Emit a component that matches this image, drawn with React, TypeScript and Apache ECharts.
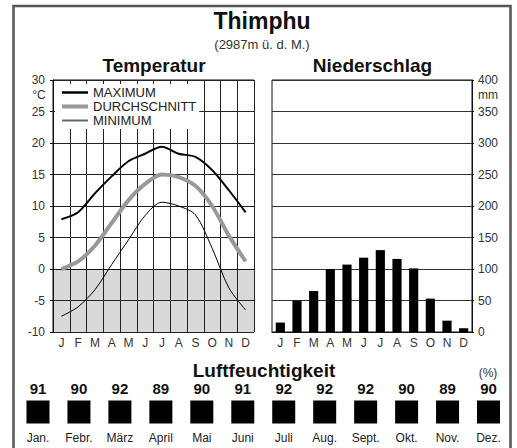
import React, { useEffect, useRef } from 'react';
import * as echarts from 'echarts';

const monthLetters = ['J', 'F', 'M', 'A', 'M', 'J', 'J', 'A', 'S', 'O', 'N', 'D'];
const monthNames = ['Jan.', 'Febr.', 'März', 'April', 'Mai', 'Juni', 'Juli', 'Aug.', 'Sept.', 'Okt.', 'Nov.', 'Dez.'];
const tempMax = [7.9, 9.0, 12.0, 14.7, 17.1, 18.3, 19.4, 18.3, 17.8, 15.7, 12.5, 9.0];
const tempAvg = [0.0, 1.2, 3.7, 7.3, 10.9, 13.5, 15.0, 14.6, 13.2, 10.0, 5.3, 1.2];
const tempMin = [-7.5, -6.0, -3.3, 0.7, 4.6, 8.5, 10.6, 10.0, 8.6, 3.3, -3.0, -6.5];
const precipitation = [15, 50, 65, 100, 107, 118, 130, 116, 101, 53, 18, 6];
const humidity = [91, 90, 92, 89, 90, 91, 92, 92, 92, 90, 89, 90];
const seriesNames = ['MAXIMUM', 'DURCHSCHNITT', 'MINIMUM'];

const FONT = '"Liberation Sans", Arial, Helvetica, sans-serif';

export default function App() {
  const ref = useRef<HTMLDivElement>(null);
  useEffect(() => {
    const chart = echarts.init(ref.current as HTMLDivElement, null, { renderer: 'svg' });
    const tickLabel = { fontSize: 12, color: '#333', fontFamily: FONT };
    chart.setOption({
      animation: false,
      backgroundColor: '#ffffff',
      textStyle: { fontFamily: FONT },
      grid: [
        { left: 53, top: 80, width: 201, height: 252, show: true, borderColor: '#111', borderWidth: 1 },
        { left: 272, top: 80, width: 200, height: 252, show: true, borderColor: '#111', borderWidth: 1 },
        { left: 17.5, top: 401, width: 491.5, height: 22 },
      ],
      legend: {
        orient: 'vertical',
        left: 55,
        top: 84,
        padding: [2, 3, 2, 7],
        itemWidth: 26,
        itemHeight: 8,
        itemGap: 1,
        backgroundColor: '#ffffff',
        textStyle: { fontSize: 13, color: '#222', fontFamily: FONT },
        data: [
          { name: seriesNames[0], icon: 'path://M0,0H26V2.5H0Z', itemStyle: { color: '#000' } },
          { name: seriesNames[1], icon: 'path://M0,0H26V4H0Z', itemStyle: { color: '#999' } },
          { name: seriesNames[2], icon: 'path://M0,0H26V2H0Z', itemStyle: { color: '#666' } },
        ],
      },
      xAxis: [
        {
          gridIndex: 0,
          type: 'category',
          data: monthLetters,
          boundaryGap: true,
          axisLine: { lineStyle: { color: '#111' } },
          axisTick: { show: false },
          axisLabel: { ...tickLabel, margin: 5 },
          splitLine: { show: true, lineStyle: { color: '#222', width: 1 } },
        },
        {
          gridIndex: 1,
          type: 'category',
          data: monthLetters,
          boundaryGap: true,
          axisLine: { lineStyle: { color: '#111' } },
          axisTick: { show: false },
          axisLabel: { ...tickLabel, margin: 5 },
          splitLine: { show: false },
        },
        {
          gridIndex: 2,
          type: 'category',
          data: monthNames,
          boundaryGap: true,
          axisLine: { show: false },
          axisTick: { show: false },
          axisLabel: { fontSize: 12, color: '#222', fontFamily: FONT, margin: 9 },
          splitLine: { show: false },
        },
      ],
      yAxis: [
        {
          gridIndex: 0,
          type: 'value',
          min: -10,
          max: 30,
          interval: 5,
          axisLine: { show: true, lineStyle: { color: '#111' } },
          axisTick: { show: true, length: 3, lineStyle: { color: '#111' } },
          axisLabel: { ...tickLabel, margin: 8 },
          splitLine: { show: true, lineStyle: { color: '#222', width: 1 } },
          splitArea: {
            show: true,
            areaStyle: {
              color: ['#d9d9d9', '#d9d9d9', '#ffffff', '#ffffff', '#ffffff', '#ffffff', '#ffffff', '#ffffff'],
            },
          },
        },
        {
          gridIndex: 1,
          type: 'value',
          position: 'right',
          min: 0,
          max: 400,
          interval: 50,
          axisLine: { show: true, lineStyle: { color: '#111' } },
          axisTick: { show: true, length: 2, lineStyle: { color: '#111' } },
          axisLabel: { ...tickLabel, margin: 6 },
          splitLine: { show: true, lineStyle: { color: '#333', width: 1 } },
        },
        { gridIndex: 2, type: 'value', min: 0, max: 1, show: false },
      ],
      series: [
        {
          name: seriesNames[1],
          type: 'line',
          xAxisIndex: 0,
          yAxisIndex: 0,
          data: tempAvg,
          smooth: 0.3,
          symbol: 'none',
          lineStyle: { color: '#999', width: 4 },
          itemStyle: { color: '#999' },
          z: 3,
        },
        {
          name: seriesNames[0],
          type: 'line',
          xAxisIndex: 0,
          yAxisIndex: 0,
          data: tempMax,
          smooth: 0.3,
          symbol: 'none',
          lineStyle: { color: '#000', width: 2 },
          itemStyle: { color: '#000' },
          z: 4,
        },
        {
          name: seriesNames[2],
          type: 'line',
          xAxisIndex: 0,
          yAxisIndex: 0,
          data: tempMin,
          smooth: 0.3,
          symbol: 'none',
          lineStyle: { color: '#000', width: 1 },
          itemStyle: { color: '#000' },
          z: 4,
        },
        {
          name: 'Niederschlag',
          type: 'bar',
          xAxisIndex: 1,
          yAxisIndex: 1,
          data: precipitation,
          barWidth: '55%',
          itemStyle: { color: '#000' },
        },
        {
          name: 'Luftfeuchtigkeit',
          type: 'scatter',
          xAxisIndex: 2,
          yAxisIndex: 2,
          symbol: 'rect',
          symbolSize: 23,
          itemStyle: { color: '#000', opacity: 1 },
          data: humidity.map((h, i) => ({ value: [i, 0.5], humidity: h })),
          label: {
            show: true,
            position: 'top',
            distance: 5,
            formatter: (p: any) => String(humidity[p.dataIndex]),
            fontSize: 15,
            fontWeight: 'bold',
            color: '#111',
            fontFamily: FONT,
          },
        },
      ],
      graphic: [
        {
          type: 'rect',
          silent: true,
          shape: { x: 13.5, y: 6, width: 497, height: 470 },
          style: { fill: 'none', stroke: '#555', lineWidth: 2.5 },
          z: 10,
        },
        {
          type: 'text',
          x: 262,
          y: 21,
          style: { text: 'Thimphu', fontSize: 23, fontWeight: 'bold', fill: '#111', fontFamily: FONT, textAlign: 'center', textVerticalAlign: 'middle' },
        },
        {
          type: 'text',
          x: 262,
          y: 44,
          style: { text: '(2987m ü. d. M.)', fontSize: 13, fill: '#333', fontFamily: FONT, textAlign: 'center', textVerticalAlign: 'middle' },
        },
        {
          type: 'text',
          x: 154,
          y: 65,
          style: { text: 'Temperatur', fontSize: 19, fontWeight: 'bold', fill: '#111', fontFamily: FONT, textAlign: 'center', textVerticalAlign: 'middle' },
        },
        {
          type: 'text',
          x: 372.5,
          y: 65,
          style: { text: 'Niederschlag', fontSize: 19, fontWeight: 'bold', fill: '#111', fontFamily: FONT, textAlign: 'center', textVerticalAlign: 'middle' },
        },
        {
          type: 'text',
          x: 39,
          y: 95,
          style: { text: '°C', fontSize: 12, fill: '#333', fontFamily: FONT, textAlign: 'center', textVerticalAlign: 'middle' },
        },
        {
          type: 'text',
          x: 478,
          y: 95,
          style: { text: 'mm', fontSize: 12, fill: '#333', fontFamily: FONT, textAlign: 'left', textVerticalAlign: 'middle' },
        },
        {
          type: 'text',
          x: 264,
          y: 370,
          style: { text: 'Luftfeuchtigkeit', fontSize: 19, fontWeight: 'bold', fill: '#111', fontFamily: FONT, textAlign: 'center', textVerticalAlign: 'middle' },
        },
        {
          type: 'text',
          x: 488,
          y: 373,
          style: { text: '(%)', fontSize: 12, fill: '#333', fontFamily: FONT, textAlign: 'center', textVerticalAlign: 'middle' },
        },
      ],
    });
    return () => chart.dispose();
  }, []);
  return <div ref={ref} style={{ position: 'fixed', left: 0, top: 0, width: 517, height: 448 }} />;
}
